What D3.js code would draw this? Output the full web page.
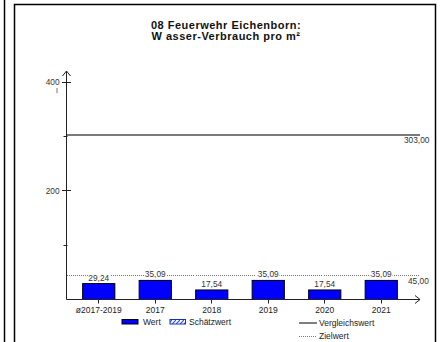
<!DOCTYPE html>
<html><head><meta charset="utf-8">
<script src="https://cdn.jsdelivr.net/npm/d3@7"></script>
<style>body{margin:0;background:#fff}svg{display:block}text{font-family:Arial,"Liberation Sans",sans-serif}</style>
</head><body>
<script>
const categories = ["ø2017-2019","2017","2018","2019","2020","2021"];
const values = [29.24, 35.09, 17.54, 35.09, 17.54, 35.09];
const valueLabels = ["29,24","35,09","17,54","35,09","17,54","35,09"];
const comparisonValue = 303;
const comparisonLabel = "303,00";
const targetValue = 45;
const targetLabel = "45,00";
const yTicks = [100, 200, 300, 400];
const yTickLabels = {200: "200", 400: "400"};
const titleLines = ["08 Feuerwehr Eichenborn:", "W asser-Verbrauch pro m²"];

const W = 445, H = 342;
const svg = d3.select("body").append("svg").attr("width", W).attr("height", H);

// frames
svg.append("line").attr("x1",4.5).attr("x2",4.5).attr("y1",0).attr("y2",H).attr("stroke","#000").attr("stroke-width",1.5);
svg.append("path").attr("d","M14.5,350V4.5H435.5V350").attr("fill","none").attr("stroke","#000").attr("stroke-width",1.5);

// title
svg.append("g").selectAll("text").data(titleLines).join("text")
  .attr("x",226).attr("y",(d,i)=>28.5+i*11.5).attr("text-anchor","middle")
  .attr("font-size",11).attr("letter-spacing",0.5).attr("font-weight","bold").attr("fill","#111").text(d=>d);

const x0 = 66.5, xEnd = 420, y0 = 299.5;
const y = d3.scaleLinear().domain([0,400]).range([y0, 82]);
const x = d3.scaleBand().domain(categories).range([70.5, 409.5]).paddingInner(0.43).paddingOuter(0.215);
const snap = v => Math.round(v - 0.5) + 0.5;

// comparison line
svg.append("line").attr("x1",x0).attr("x2",xEnd).attr("y1",Math.round(y(comparisonValue))).attr("y2",Math.round(y(comparisonValue)))
  .attr("stroke","#7a7a7a").attr("stroke-width",2);
svg.append("text").attr("x",404).attr("y",y(comparisonValue)+8).attr("font-size",8.3).attr("fill","#333").text(comparisonLabel);

// target line
svg.append("line").attr("x1",x0).attr("x2",419).attr("y1",snap(y(targetValue))).attr("y2",snap(y(targetValue)))
  .attr("stroke","#777").attr("stroke-width",1).attr("stroke-dasharray","1,1").attr("shape-rendering","crispEdges");
svg.append("text").attr("x",408).attr("y",y(targetValue)+8.5).attr("font-size",8.3).attr("fill","#333").text(targetLabel);

// bars
svg.append("g").selectAll("rect").data(values).join("rect")
  .attr("x",(d,i)=>x(categories[i])).attr("width",x.bandwidth())
  .attr("y",d=>y(d)).attr("height",d=>y0-y(d))
  .attr("fill","#0000ff").attr("stroke","#000").attr("stroke-width",1);

// value labels with white background
const vl = svg.append("g").selectAll("g").data(values).join("g");
vl.each(function(d,i){
  const g = d3.select(this);
  const cx = x(categories[i]) + x.bandwidth()/2;
  const t = g.append("text").attr("x",cx).attr("y",y(d)-3).attr("text-anchor","middle")
    .attr("font-size",8.3).attr("fill","#333").text(valueLabels[i]);
  const bb = t.node().getBBox();
  g.insert("rect","text").attr("x",bb.x-0.5).attr("y",bb.y+1).attr("width",bb.width+1).attr("height",bb.height-2).attr("fill","#fff");
});

// y axis
svg.append("line").attr("x1",x0).attr("x2",x0).attr("y1",y0).attr("y2",71).attr("stroke","#222").attr("stroke-width",1);
svg.append("path").attr("d",`M${x0-4},${76}L${x0},${71}L${x0+4},${76}`).attr("fill","none").attr("stroke","#222");
const yt = svg.append("g").selectAll("g").data(yTicks).join("g");
yt.append("line").attr("x1",d=>yTickLabels[d]?x0-4.5:x0-3).attr("x2",d=>yTickLabels[d]?x0+4.5:x0+1)
  .attr("y1",d=>snap(y(d))).attr("y2",d=>snap(y(d))).attr("stroke","#222").attr("stroke-width",1);
yt.append("text").attr("x",x0-7).attr("y",d=>y(d)+3).attr("text-anchor","end").attr("font-size",8.3).attr("fill","#333")
  .text(d=>yTickLabels[d]||"");
svg.append("line").attr("x1",57).attr("x2",57).attr("y1",88).attr("y2",93).attr("stroke","#777").attr("stroke-width",1);

// x axis
svg.append("line").attr("x1",x0).attr("x2",xEnd).attr("y1",y0).attr("y2",y0).attr("stroke","#222").attr("stroke-width",1);
svg.append("path").attr("d",`M${xEnd-5},${y0-4}L${xEnd},${y0}L${xEnd-5},${y0+4}`).attr("fill","none").attr("stroke","#222");
const xt = svg.append("g").selectAll("g").data(categories).join("g");
xt.append("line").attr("x1",d=>snap(x(d)+x.bandwidth()/2)).attr("x2",d=>snap(x(d)+x.bandwidth()/2))
  .attr("y1",y0).attr("y2",y0+4).attr("stroke","#222");
xt.append("text").attr("x",d=>x(d)+x.bandwidth()/2).attr("y",y0+13.5).attr("text-anchor","middle")
  .attr("font-size",8.5).attr("fill","#222").text(d=>d);

// legend
const defs = svg.append("defs");
const pat = defs.append("pattern").attr("id","hatch").attr("patternUnits","userSpaceOnUse").attr("width",4).attr("height",4);
pat.append("rect").attr("width",4).attr("height",4).attr("fill","#fff");
pat.append("path").attr("d","M0,4L4,0").attr("stroke","#3050ff").attr("stroke-width",1.2);

svg.append("rect").attr("x",122).attr("y",319.5).attr("width",16).attr("height",4.5).attr("fill","#0000ff").attr("stroke","#000").attr("stroke-width",1);
svg.append("text").attr("x",143).attr("y",325).attr("font-size",8.5).attr("fill","#222").text("Wert");
svg.append("rect").attr("x",170).attr("y",319.5).attr("width",15.5).attr("height",4.5).attr("fill","url(#hatch)").attr("stroke","#1030c0").attr("stroke-width",1);
svg.append("text").attr("x",189).attr("y",325).attr("font-size",8.5).attr("fill","#222").text("Schätzwert");

svg.append("line").attr("x1",299).attr("x2",317).attr("y1",323).attr("y2",323).attr("stroke","#555").attr("stroke-width",1.5);
svg.append("text").attr("x",319).attr("y",326).attr("font-size",8.5).attr("fill","#222").text("Vergleichswert");
svg.append("line").attr("x1",299).attr("x2",317).attr("y1",336.5).attr("y2",336.5).attr("stroke","#777").attr("stroke-width",1).attr("stroke-dasharray","1,1").attr("shape-rendering","crispEdges");
svg.append("text").attr("x",319).attr("y",339).attr("font-size",8.5).attr("fill","#222").text("Zielwert");
</script>
</body></html>
